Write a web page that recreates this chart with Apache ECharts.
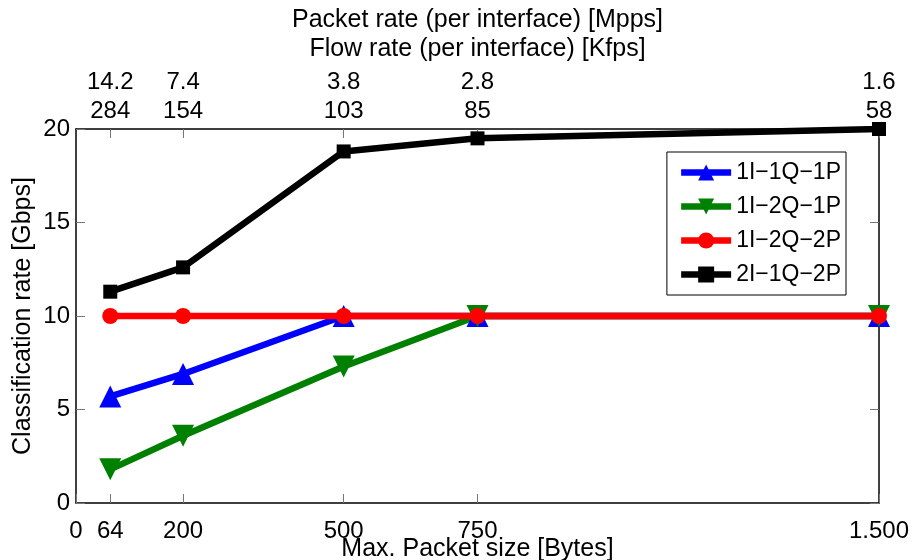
<!DOCTYPE html>
<html>
<head>
<meta charset="utf-8">
<script src="https://cdn.jsdelivr.net/npm/echarts@6/dist/echarts.min.js"></script>
<style>
  html, body { margin: 0; padding: 0; background: #fff; }
  #main { width: 914px; height: 560px; }
</style>
</head>
<body>
<div id="main"></div>
<script>
// packet sizes (bytes) and top axis labels
var sizes = [64, 200, 500, 750, 1500];
var packetRate = ['14.2', '7.4', '3.8', '2.8', '1.6'];
var flowRate = ['284', '154', '103', '85', '58'];

var names = ['1I\u22121Q\u22121P', '1I\u22122Q\u22121P', '1I\u22122Q\u22122P', '2I\u22121Q\u22122P'];
var s1 = [5.7, 6.9, 10, 10, 10];
var s2 = [1.8, 3.6, 7.3, 10, 10];
var s3 = [10, 10, 10, 10, 10];
var s4 = [11.3, 12.6, 18.8, 19.5, 20];

var FONT = 'Liberation Sans, Arial, Helvetica, sans-serif';

function pairs(vals) {
  return sizes.map(function (x, i) { return [x, vals[i]]; });
}

var chart = echarts.init(document.getElementById('main'));

function mkSeries(name, vals, color, symbol, size, rot) {
  return {
    name: name,
    type: 'line',
    data: pairs(vals),
    symbol: symbol,
    symbolSize: size,
    symbolRotate: rot || 0,
    lineStyle: { color: color, width: 6.5 },
    itemStyle: { color: color },
    animation: false,
    z: 3
  };
}

var axisLine = { show: true, onZero: false, lineStyle: { color: '#000', width: 1.5 } };
var tickStyle = { color: '#777', width: 1 };

var option = {
  backgroundColor: '#fff',
  textStyle: { fontFamily: FONT },
  grid: { left: 76, right: 35, top: 129, bottom: 57, outerBoundsMode: 'none', containLabel: false },
  legend: {
    orient: 'vertical',
    right: 68,
    top: 152,
    padding: [9, 5, 9, 11],
    itemGap: 11,
    itemWidth: 50,
    itemHeight: 20,
    borderColor: '#000',
    borderWidth: 1,
    borderRadius: 0,
    backgroundColor: '#fff',
    lineStyle: { width: 6.5 },
    textStyle: { fontFamily: FONT, fontSize: 23, color: '#000' },
    data: names
  },
  xAxis: [
    {
      type: 'value',
      min: 0,
      max: 1500,
      position: 'bottom',
      name: 'Max. Packet size [Bytes]',
      nameLocation: 'middle',
      nameGap: 34,
      nameMoveOverlap: false,
      nameTextStyle: { fontFamily: FONT, fontSize: 25, color: '#000' },
      axisLine: axisLine,
      axisTick: { show: true, inside: true, length: 9, customValues: [0].concat(sizes), lineStyle: tickStyle },
      axisLabel: {
        customValues: [0].concat(sizes),
        fontSize: 24, color: '#000', margin: 16,
        formatter: function (v) { return v === 1500 ? '1.500' : String(v); }
      },
      splitLine: { show: false }
    },
    {
      type: 'value',
      min: 0,
      max: 1500,
      position: 'top',
      name: 'Packet rate (per interface) [Mpps]\nFlow rate (per interface) [Kfps]',
      nameLocation: 'middle',
      nameGap: 65,
      nameMoveOverlap: false,
      nameTextStyle: { fontFamily: FONT, fontSize: 25, color: '#000', lineHeight: 29 },
      axisLine: axisLine,
      axisTick: { show: true, inside: true, length: 9, customValues: sizes, lineStyle: tickStyle },
      axisLabel: {
        customValues: sizes,
        fontSize: 24, color: '#000', margin: 3, lineHeight: 29,
        formatter: function (v) {
          var i = sizes.indexOf(v);
          return i < 0 ? '' : packetRate[i] + '\n' + flowRate[i];
        }
      },
      splitLine: { show: false }
    }
  ],
  yAxis: [
    {
      type: 'value',
      min: 0,
      max: 20,
      interval: 5,
      position: 'left',
      name: 'Classification rate [Gbps]',
      nameLocation: 'middle',
      nameGap: 40,
      nameMoveOverlap: false,
      nameTextStyle: { fontFamily: FONT, fontSize: 25, color: '#000' },
      axisLine: axisLine,
      axisTick: { show: true, inside: true, length: 9, lineStyle: tickStyle },
      axisLabel: { fontSize: 24, color: '#000', margin: 6 },
      splitLine: { show: false }
    },
    {
      type: 'value',
      min: 0,
      max: 20,
      interval: 5,
      position: 'right',
      axisLine: axisLine,
      axisTick: { show: true, inside: true, length: 9, lineStyle: tickStyle },
      axisLabel: { show: false },
      splitLine: { show: false }
    }
  ],
  series: [
    mkSeries(names[0], s1, '#0000ff', 'triangle', 22),
    mkSeries(names[1], s2, '#008000', 'triangle', 22, 180),
    mkSeries(names[2], s3, '#ff0000', 'circle', 16),
    mkSeries(names[3], s4, '#000000', 'rect', 14)
  ]
};

chart.setOption(option);
</script>
</body>
</html>
